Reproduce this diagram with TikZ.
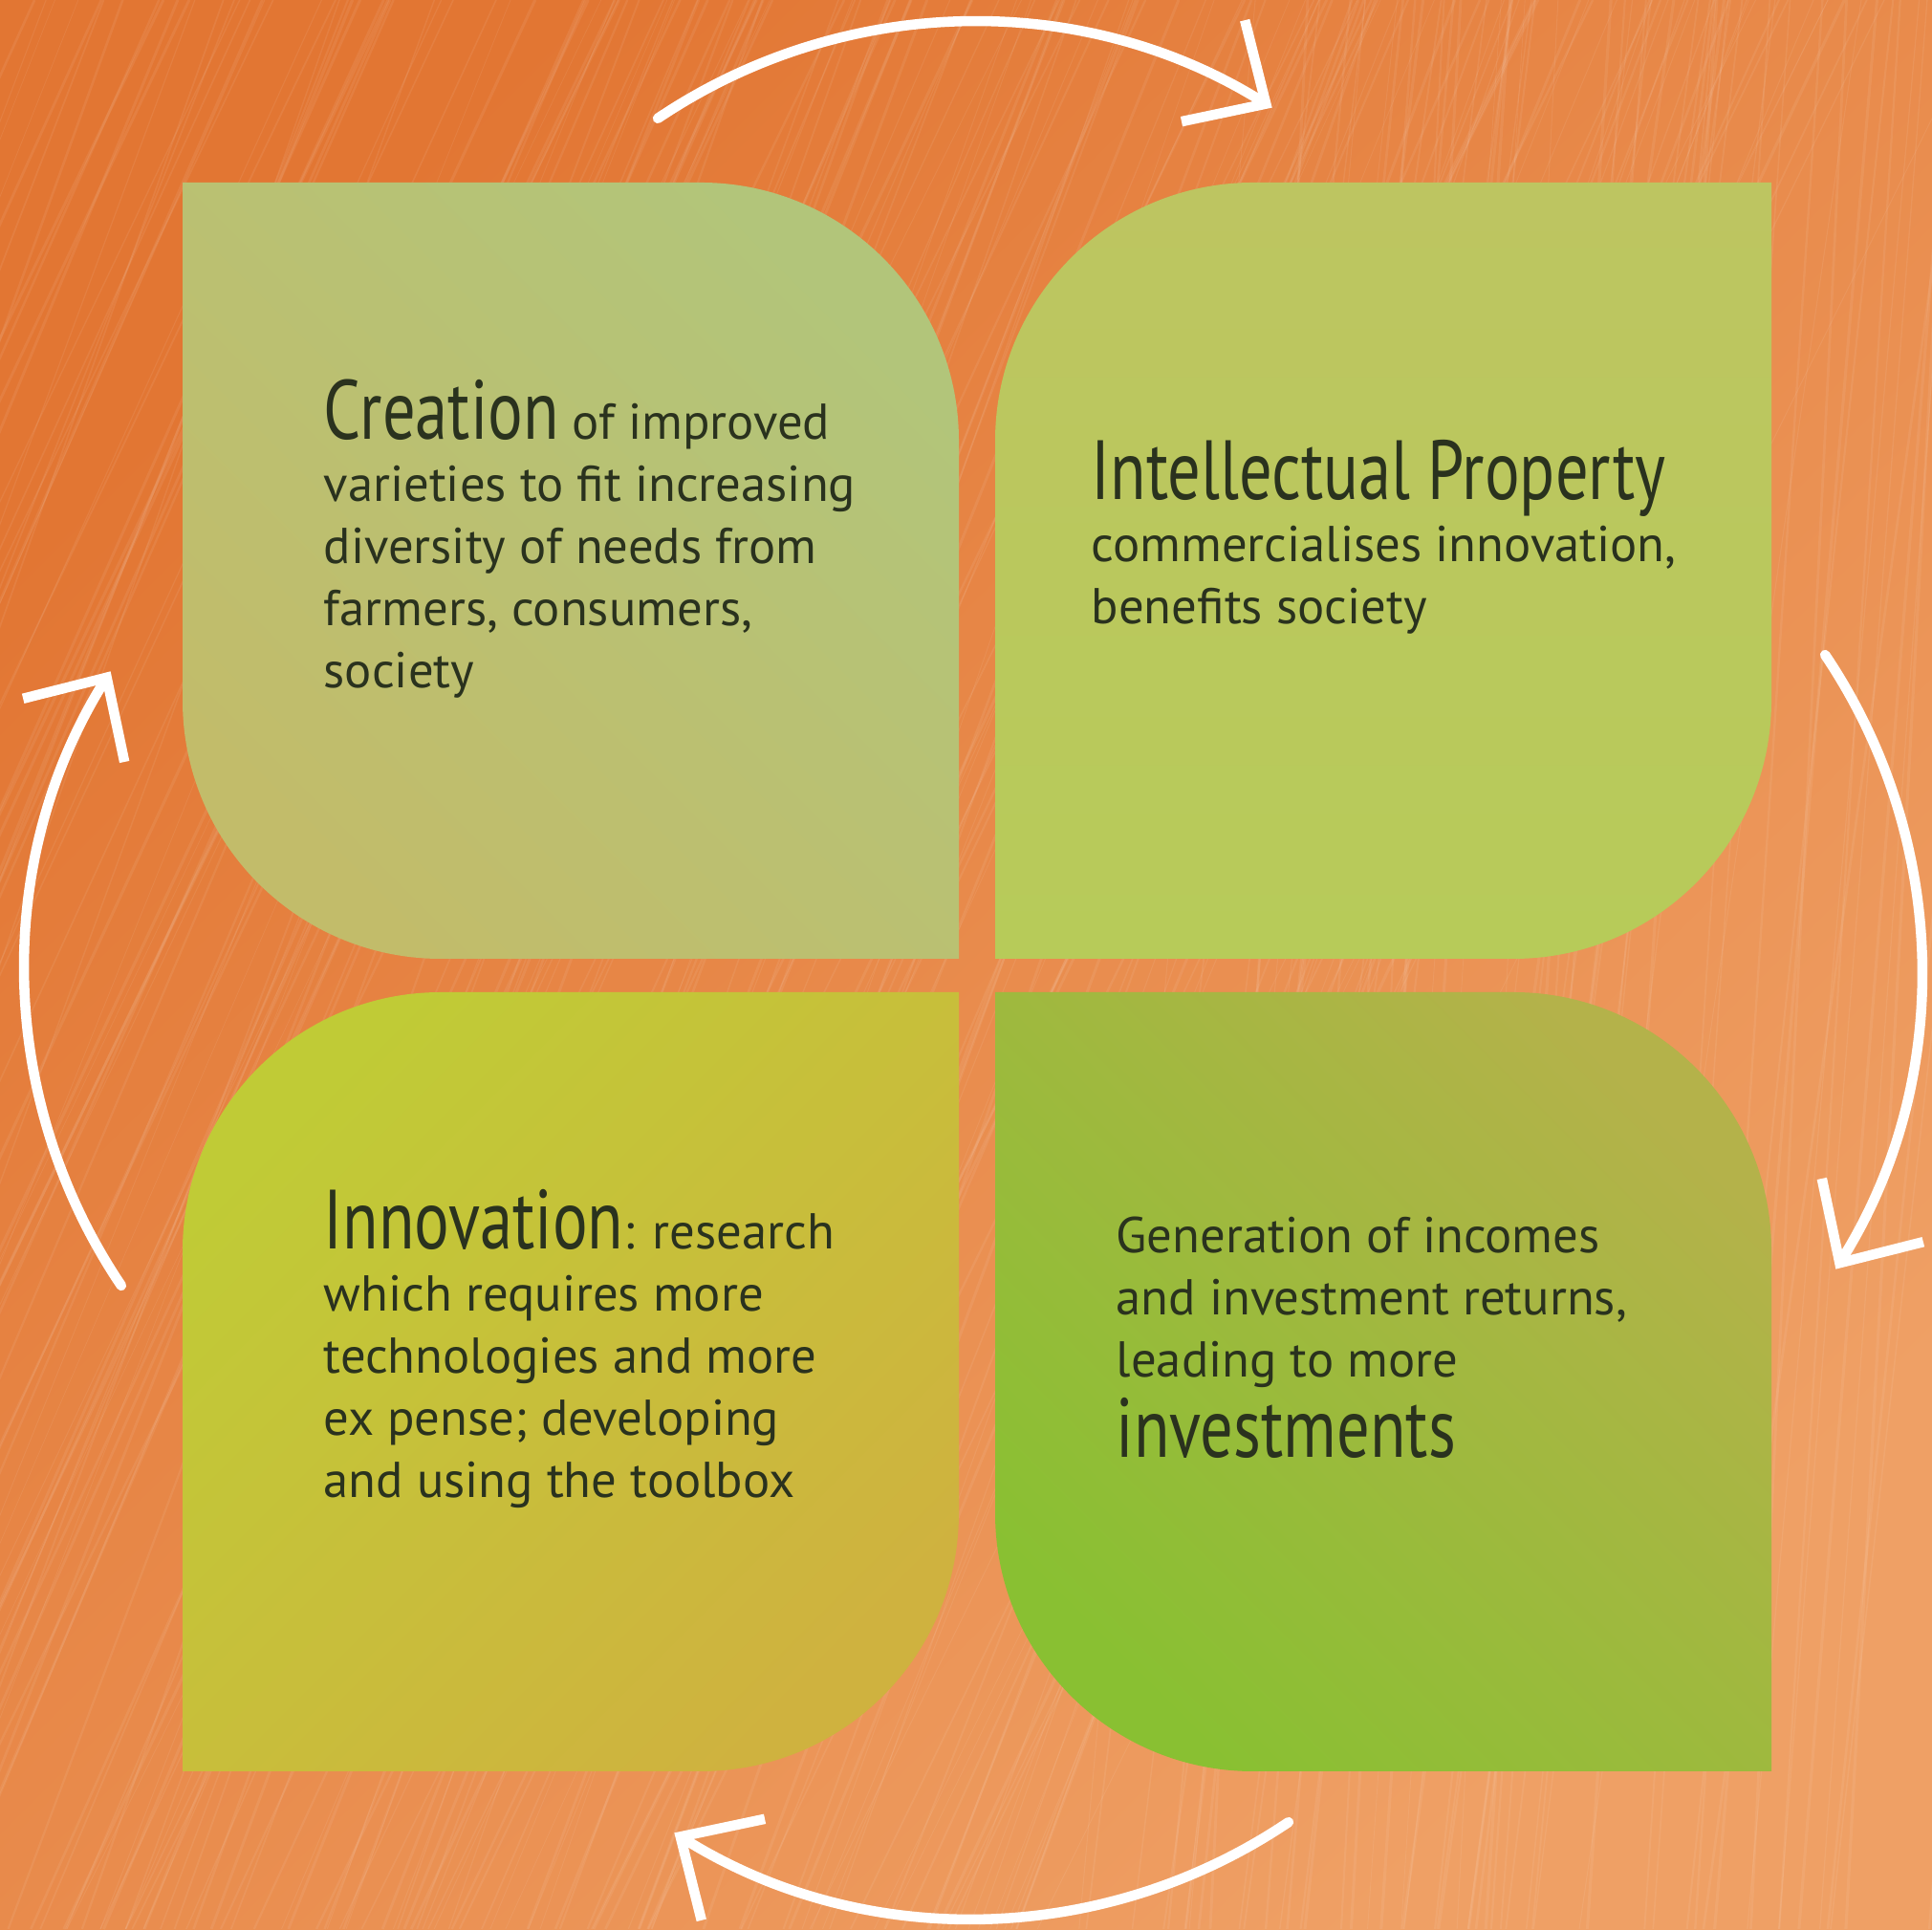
\documentclass[tikz,border=0pt]{standalone}
\usepackage{fontspec}
\setmainfont{PT Sans}
\newfontfamily\narrowsans[FakeStretch=0.78]{PT Sans}
\usetikzlibrary{arrows.meta,calc}

\definecolor{woodA}{HTML}{E27633}
\definecolor{woodB}{HTML}{EFA065}
\definecolor{leaftext}{HTML}{2A321E}
% leaf tints
\definecolor{creationA}{HTML}{B2C57A}
\definecolor{creationB}{HTML}{B7C376}
\definecolor{creationC}{HTML}{C2BC6A}
\definecolor{propertyA}{HTML}{BDC561}
\definecolor{propertyB}{HTML}{B7CB59}
\definecolor{innovationA}{HTML}{C0CB36}
\definecolor{innovationB}{HTML}{C4C637}
\definecolor{innovationC}{HTML}{CFB23F}
\definecolor{generationA}{HTML}{B4B24A}
\definecolor{generationB}{HTML}{A3BA3D}
\definecolor{generationC}{HTML}{89C032}

\newcommand{\leafhead}[1]{{\narrowsans\fontsize{25}{25}\selectfont #1}}

\tikzset{
  bodytext/.style={anchor=north west, align=left, inner sep=0pt, text=leaftext,
    font=\fontsize{15}{18.5}\selectfont},
  turn/.style={white, line width=3pt, line cap=round,
    -{Straight Barb[length=6.5mm,width=12.5mm]}},
  grain/.style={white, opacity=0.07}
}

\begin{document}
\begin{tikzpicture}
  \useasboundingbox (0,0) rectangle (20.21,20.18);
  % wood
  \shade[top color=woodA, bottom color=woodB, shading angle=45] (0,0) rectangle (20.21,20.18);
  \begin{scope}
    \clip (0,0) rectangle (20.21,20.18);
    \pgfmathsetseed{7}
    \foreach \k in {1,...,220} {
      \pgfmathsetmacro\gx{rnd*30-9}
      \pgfmathsetmacro\gdx{\gx<11 ? 7+rnd*3 : 1+rnd*2}
      \pgfmathsetmacro\gw{0.2+rnd*0.7}
      \draw[grain, line width=\gw pt] (\gx,0) -- ++(\gdx,20.18);
    }
  \end{scope}

  % the four leaves
  \shade[top color=creationA, middle color=creationB, bottom color=creationC, shading angle=-45]
    (1.91,18.27) -- (7.33,18.27) arc[start angle=90, end angle=0, radius=2.7]
    -- (10.03,10.15) -- (4.61,10.15) arc[start angle=270, end angle=180, radius=2.7] -- cycle;
  \shade[top color=propertyA, bottom color=propertyB]
    (18.53,18.27) -- (18.53,12.85) arc[start angle=0, end angle=-90, radius=2.7]
    -- (10.41,10.15) -- (10.41,15.57) arc[start angle=180, end angle=90, radius=2.7] -- cycle;
  \shade[top color=innovationA, middle color=innovationB, bottom color=innovationC, shading angle=45]
    (10.03,9.80) -- (10.03,4.35) arc[start angle=0, end angle=-90, radius=2.7]
    -- (1.91,1.65) -- (1.91,7.10) arc[start angle=180, end angle=90, radius=2.7] -- cycle;
  \shade[top color=generationA, middle color=generationB, bottom color=generationC, shading angle=-45]
    (10.41,9.80) -- (15.83,9.80) arc[start angle=90, end angle=0, radius=2.7]
    -- (18.53,1.65) -- (13.11,1.65) arc[start angle=270, end angle=180, radius=2.7] -- cycle;

  \node[bodytext] (creation) at (3.38,16.22) {\leafhead{Creation} of improved\\
    varieties to fit increasing\\ diversity of needs from\\ farmers, consumers,\\ society};
  \node[bodytext] (property) at (11.41,15.58) {\leafhead{Intellectual Property}\\
    commercialises innovation,\\ benefits society};
  \node[bodytext] (innovation) at (3.38,7.74) {\leafhead{Innovation}: research\\
    which requires more\\ technologies and more\\ ex pense; developing\\ and using the toolbox};
  \node[bodytext] (generation) at (11.67,7.46) {Generation of incomes\\
    and investment returns,\\ leading to more\\[2pt] \leafhead{investments}};

  % arrows round the cycle
  \coordinate (hub) at (10.18,10.03);
  \foreach \a in {90,0,-90,180}
    \draw[turn] ($(hub)+(\a:4.02)+(\a+34:5.9)$) arc[start angle=\a+34, end angle=\a-32, radius=5.9];
\end{tikzpicture}
\end{document}
